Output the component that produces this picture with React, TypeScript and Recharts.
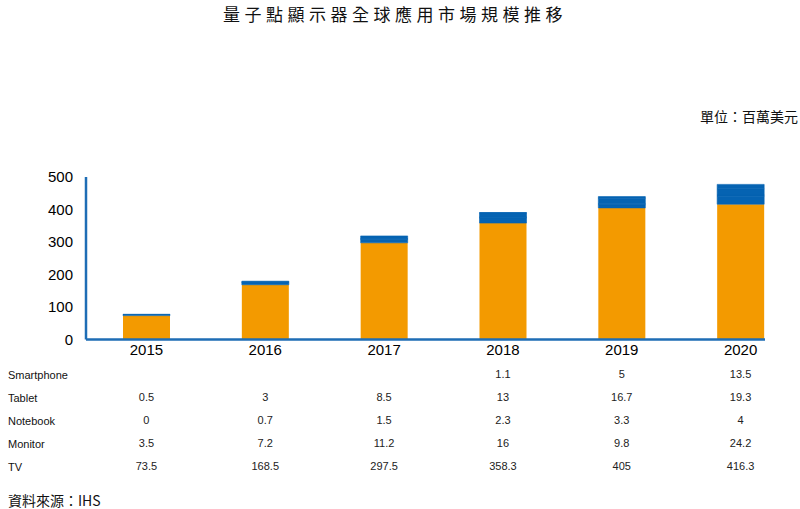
import { BarChart, Bar, XAxis, YAxis } from 'recharts';

const years = ['2015', '2016', '2017', '2018', '2019', '2020'];
const tv = [73.5, 168.5, 297.5, 358.3, 405, 416.3];
const monitor = [3.5, 7.2, 11.2, 16, 9.8, 24.2];
const notebook = [0, 0.7, 1.5, 2.3, 3.3, 4];
const tablet = [0.5, 3, 8.5, 13, 16.7, 19.3];
const smartphone = [null, null, null, 1.1, 5, 13.5];
const yTicks = [0, 100, 200, 300, 400, 500];

const tableRows = [
    { name: 'Smartphone', values: smartphone },
    { name: 'Tablet', values: tablet },
    { name: 'Notebook', values: notebook },
    { name: 'Monitor', values: monitor },
    { name: 'TV', values: tv },
];

const data = years.map((year, i) => ({
    year,
    TV: tv[i],
    Monitor: monitor[i],
    Notebook: notebook[i],
    Tablet: tablet[i],
    Smartphone: smartphone[i],
}));

const ORANGE = '#F39A00';
const BLUE = '#0563B2';
const AXIS_BLUE = '#1E6DB5';
const LATIN = '"Liberation Sans", Arial, sans-serif';
const CJK = '"Noto Sans CJK TC", "Noto Sans", sans-serif';
const xPadding = { left: 1, right: -35 };

// bottom axes get stacked in id order, so ids are numbered: r0 = years, r1.. = table rows
const blueBars = ['Monitor', 'Notebook', 'Tablet', 'Smartphone'];

export default function App() {
    return (
        <div style={{ position: 'absolute', left: 0, top: 0, width: 800, height: 509, background: '#fff', fontFamily: LATIN, lineHeight: 1 }}>
            <div style={{ position: 'absolute', left: 0, width: 790, top: 5, textAlign: 'center', fontFamily: CJK, fontSize: 17, letterSpacing: 4.5, color: '#111' }}>
                量子點顯示器全球應用市場規模推移
            </div>
            <div style={{ position: 'absolute', right: 2, top: 109, fontFamily: CJK, fontSize: 14, color: '#111' }}>
                單位：百萬美元
            </div>
            {tableRows.map((row, i) => (
                <div key={row.name} style={{ position: 'absolute', left: 8, top: 370 + i * 23, fontSize: 11, color: '#111' }}>
                    {row.name}
                </div>
            ))}
            <div style={{ position: 'absolute', left: 8, top: 493, fontFamily: CJK, fontSize: 14, color: '#111' }}>
                資料來源：IHS
            </div>
            <BarChart
                width={800}
                height={509}
                data={data}
                margin={{ top: 177, right: 35, bottom: 27.5, left: 0 }}
                style={{ position: 'absolute', left: 0, top: 0 }}
            >
                <YAxis
                    domain={[0, 500]}
                    ticks={yTicks}
                    width={86}
                    axisLine={{ stroke: AXIS_BLUE, strokeWidth: 2.5 }}
                    tickLine={false}
                    tickSize={0}
                    tickMargin={13}
                    tick={{ fontSize: 15, fill: '#000', fontFamily: LATIN }}
                />
                <XAxis
                    xAxisId="r0"
                    dataKey="year"
                    height={27}
                    padding={xPadding}
                    axisLine={{ stroke: AXIS_BLUE, strokeWidth: 2.5 }}
                    tickLine={false}
                    tickSize={0}
                    tickMargin={5}
                    tick={{ fontSize: 15, fill: '#000', fontFamily: LATIN }}
                />
                {tableRows.map((row, i) => (
                    <XAxis
                        key={row.name}
                        xAxisId={`r${i + 1}`}
                        dataKey="year"
                        height={23}
                        padding={xPadding}
                        axisLine={false}
                        tickLine={false}
                        tickSize={0}
                        tickMargin={4}
                        interval={0}
                        tick={{ fontSize: 11, fill: '#222', fontFamily: LATIN }}
                        tickFormatter={(v: string) => {
                            const val = row.values[years.indexOf(v)];
                            return val === null || val === undefined ? '' : String(val);
                        }}
                    />
                ))}
                <Bar dataKey="TV" stackId="a" xAxisId="r0" fill={ORANGE} barSize={47} isAnimationActive={false} />
                {blueBars.map((key) => (
                    <Bar
                        key={key}
                        dataKey={key}
                        stackId="a"
                        xAxisId="r0"
                        fill={BLUE}
                        stroke={BLUE}
                        strokeWidth={0.6}
                        barSize={47}
                        isAnimationActive={false}
                    />
                ))}
            </BarChart>
        </div>
    );
}
